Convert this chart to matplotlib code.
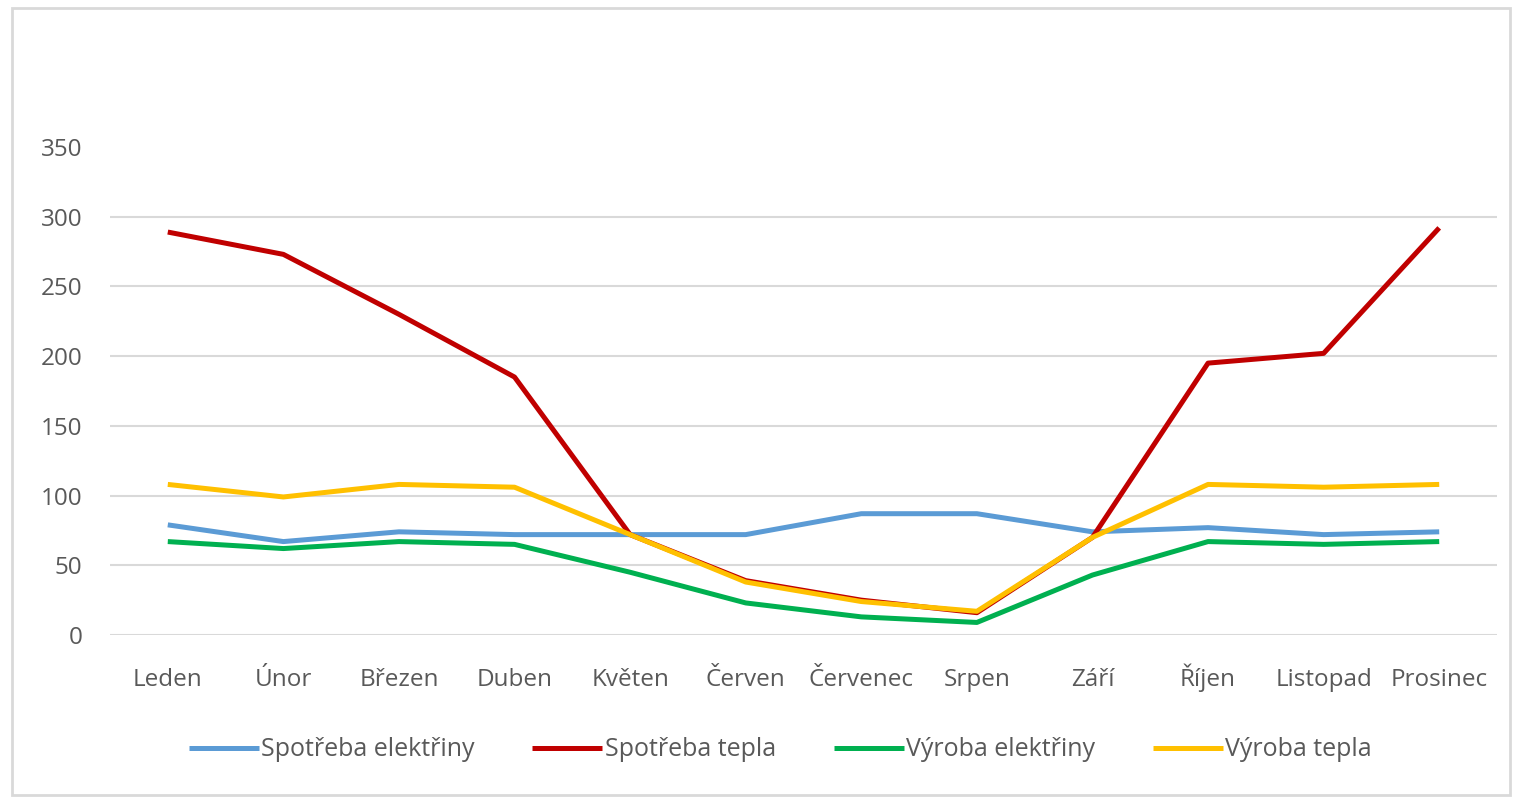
import matplotlib.pyplot as plt
from matplotlib.patches import Rectangle

plt.rcParams['font.family'] = ['Open Sans', 'DejaVu Sans']

months = ['Leden', 'Únor', 'Březen', 'Duben', 'Květen', 'Červen',
          'Červenec', 'Srpen', 'Září', 'Říjen', 'Listopad', 'Prosinec']

spotreba_elektriny = [79, 67, 74, 72, 72, 72, 87, 87, 74, 77, 72, 74]
spotreba_tepla = [289, 273, 230, 185, 72, 39, 25, 16, 70, 195, 202, 292]
vyroba_elektriny = [67, 62, 67, 65, 45, 23, 13, 9, 43, 67, 65, 67]
vyroba_tepla = [108, 99, 108, 106, 72, 38, 24, 17, 70, 108, 106, 108]

series = [
    ('Spotřeba elektřiny', spotreba_elektriny, '#5B9BD5'),
    ('Spotřeba tepla', spotreba_tepla, '#C00000'),
    ('Výroba elektřiny', vyroba_elektriny, '#00B050'),
    ('Výroba tepla', vyroba_tepla, '#FFC000'),
]

fig = plt.figure(figsize=(15.21, 7.99), dpi=100)
fig.patches.append(Rectangle((12 / 1521, 4 / 799), 1498 / 1521, 787 / 799,
                             transform=fig.transFigure, fill=False,
                             edgecolor='#D9D9D9', linewidth=2))

ax = fig.add_axes([110 / 1521, 1 - 635 / 799, 1387 / 1521, 488 / 799])

x = list(range(len(months)))
for name, vals, color in series:
    ax.plot(x, vals, color=color, linewidth=3.6, label=name,
            solid_joinstyle='round', solid_capstyle='butt')

ax.set_xlim(-0.5, len(months) - 0.5)
ax.set_ylim(0, 350)
ax.set_yticks(range(0, 351, 50))
ax.set_xticks(x)
ax.set_xticklabels(months)

ax.grid(axis='y', color='#D9D9D9', linewidth=1.5)
ax.yaxis.get_gridlines()[-1].set_visible(False)
ax.set_axisbelow(True)
for side in ['top', 'right', 'left', 'bottom']:
    ax.spines[side].set_visible(False)

ax.tick_params(axis='both', length=0, colors='#595959', labelsize=17.5)
ax.tick_params(axis='y', pad=20)
ax.tick_params(axis='x', pad=37)
for lbl in ax.get_xticklabels():
    lbl.set_va('baseline')

leg = fig.legend(loc='center', bbox_to_anchor=(0.513, 1 - 750 / 799), ncol=4,
                 frameon=False, fontsize=18, handlelength=2.8,
                 handletextpad=0.1, columnspacing=2.3)
for t in leg.get_texts():
    t.set_color('#595959')

fig.savefig('out.png', dpi=100)
